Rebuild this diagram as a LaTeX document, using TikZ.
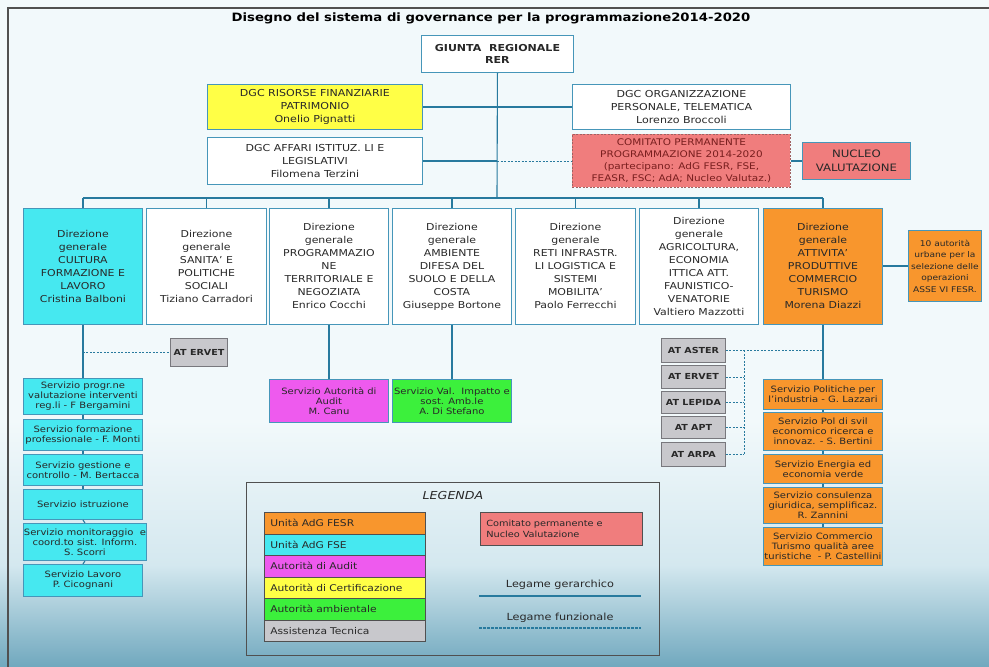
\documentclass[tikz,border=0pt]{standalone}
\usepackage{fontspec}
\setmainfont[FakeStretch=1.15]{DejaVu Sans}
\usetikzlibrary{calc}
\definecolor{bgtop}{RGB}{242,249,251}
\definecolor{bgmid}{RGB}{212,232,239}
\definecolor{bgbot}{RGB}{112,168,190}
\definecolor{framec}{RGB}{80,80,80}
\definecolor{bxline}{RGB}{70,150,185}
\definecolor{lnc}{RGB}{40,122,158}
\definecolor{txt}{RGB}{40,40,40}
\definecolor{orangec}{RGB}{248,150,45}
\definecolor{cyanc}{RGB}{70,232,240}
\definecolor{magc}{RGB}{238,90,238}
\definecolor{yelc}{RGB}{255,255,70}
\definecolor{greenc}{RGB}{60,240,60}
\definecolor{grayc}{RGB}{200,200,204}
\definecolor{graybd}{RGB}{120,120,125}
\definecolor{redc}{RGB}{240,125,125}
\definecolor{redtxt}{RGB}{120,30,30}
\newcommand\fsz[2]{\fontsize{#1}{#2}\selectfont}
\newcommand\nbox[7]{\node[#1, minimum width={#5-#3}, minimum height={#6-#4}, anchor=north west] (#2) at (#3,#4) {#7};}
\begin{document}
\begin{tikzpicture}[x=1pt,y=-1pt,
  box/.style={draw=bxline, line width=0.9pt, fill=white, align=center, inner sep=0.5pt, text=txt},
  topbox/.style={box, font=\fsz{9.6}{13}},
  dirbox/.style={box, font=\fsz{9.5}{13}},
  srvbox/.style={box, font=\fsz{8.7}{10}},
  atbox/.style={draw=graybd, line width=0.9pt, fill=grayc, align=center, inner sep=0.5pt, text=txt, font=\bfseries\fsz{8.3}{11}},
  legrow/.style={draw=framec, line width=0.7pt, align=left, inner xsep=6pt, inner ysep=0pt, text width=149pt, minimum height=21.5pt, anchor=north west, text=txt, font=\fsz{9.3}{10}},
  conn/.style={draw=lnc, line width=1.1pt},
  fconn/.style={draw=lnc, line width=0.9pt, dash pattern=on 2pt off 1.5pt}]
% background
\useasboundingbox (0,0) rectangle (989,667);
\fill[bgtop] (0,0) rectangle (989,420);
\shade[top color=bgtop, bottom color=bgmid] (0,420) rectangle (989,565);
\shade[top color=bgmid, bottom color=bgbot] (0,565) rectangle (989,667);
\draw[framec, line width=1.5pt] (8,667) -- (8,8) -- (989,8);
% title
\node[font=\bfseries\fsz{11.5}{13}, text=black] (title) at (491,18) {Disegno\ del sistema di governance per la programmazione2014-2020};
% top level
\nbox{box, font=\bfseries\fsz{9.6}{12.5}}{giunta}{421}{35}{573}{72}{GIUNTA\ \ REGIONALE\\RER}
\nbox{topbox, fill=yelc}{risorse}{207}{84}{422}{129}{DGC RISORSE FINANZIARIE\\PATRIMONIO\\Onelio Pignatti}
\nbox{topbox}{organ}{572}{84}{790}{129}{DGC ORGANIZZAZIONE\\PERSONALE, TELEMATICA\\Lorenzo Broccoli}
\nbox{topbox}{affari}{207}{137}{422}{184}{DGC AFFARI ISTITUZ. LI E\\LEGISLATIVI\\Filomena Terzini}
\nbox{topbox, fill=redc, draw=redtxt!70, dash pattern=on 2pt off 1.5pt, text=redtxt, font=\fsz{9.1}{12}}{comitato}{572}{134}{790}{187}{COMITATO PERMANENTE\\PROGRAMMAZIONE 2014-2020\\(partecipano: AdG FESR, FSE,\\FEASR, FSC; AdA; Nucleo Valutaz.)}
\nbox{topbox, fill=redc, font=\fsz{10.2}{14}}{nucleo}{802}{142}{910}{179}{NUCLEO\\VALUTAZIONE}
% directions
\nbox{dirbox, fill=cyanc}{d1}{23}{208}{142}{324}{Direzione\\generale\\CULTURA\\FORMAZIONE E\\LAVORO\\Cristina Balboni}
\nbox{dirbox}{d2}{146}{208}{266}{324}{Direzione\\generale\\SANITA’ E\\POLITICHE\\SOCIALI\\Tiziano Carradori}
\nbox{dirbox}{d3}{269}{208}{388}{324}{Direzione\\generale\\PROGRAMMAZIO\\NE\\TERRITORIALE E\\NEGOZIATA\\Enrico Cocchi}
\nbox{dirbox}{d4}{392}{208}{511}{324}{Direzione\\generale\\AMBIENTE\\DIFESA DEL\\SUOLO E DELLA\\COSTA\\Giuseppe Bortone}
\nbox{dirbox}{d5}{515}{208}{635}{324}{Direzione\\generale\\RETI INFRASTR.\\LI LOGISTICA E\\SISTEMI\\MOBILITA’\\Paolo Ferrecchi}
\nbox{dirbox}{d6}{639}{208}{758}{324}{Direzione\\generale\\AGRICOLTURA,\\ECONOMIA\\ITTICA ATT.\\FAUNISTICO-\\VENATORIE\\Valtiero Mazzotti}
\nbox{dirbox, fill=orangec}{d7}{763}{208}{882}{324}{Direzione\\generale\\ATTIVITA’\\PRODUTTIVE\\COMMERCIO\\TURISMO\\Morena Diazzi}
\nbox{srvbox, fill=orangec, font=\fsz{7.9}{11.5}}{auto}{908}{230}{981}{301}{10 autorità\\urbane per la\\selezione delle\\operazioni\\ASSE VI FESR.}
% cultura services
\nbox{srvbox, fill=cyanc}{c1}{23}{378}{142}{414}{Servizio progr.ne\\valutazione interventi\\reg.li - F Bergamini}
\nbox{srvbox, fill=cyanc}{c2}{23}{419}{142}{450}{Servizio formazione\\professionale - F. Monti}
\nbox{srvbox, fill=cyanc}{c3}{23}{454}{142}{485}{Servizio gestione e\\controllo - M. Bertacca}
\nbox{srvbox, fill=cyanc}{c4}{23}{489}{142}{519}{Servizio istruzione}
\nbox{srvbox, fill=cyanc}{c5}{23}{523}{142}{560}{Servizio monitoraggio\ \ e\\coord.to sist. Inform.\\S. Scorri}
\nbox{srvbox, fill=cyanc}{c6}{23}{564}{142}{596}{Servizio Lavoro\\P. Cicognani}
\nbox{atbox}{atc}{170}{338}{227}{366}{AT ERVET}
% audit / ambiente
\nbox{srvbox, fill=magc}{audit}{269}{379}{388}{422}{Servizio Autorità di\\Audit\\M. Canu}
\nbox{srvbox, fill=greenc}{amb}{392}{379}{511}{422}{Servizio Val.\ \ Impatto e\\sost. Amb.le\\A. Di Stefano}
% attivita AT
\nbox{atbox}{aster}{661}{338}{725}{362}{AT ASTER}
\nbox{atbox}{ervet}{661}{365}{725}{388}{AT ERVET}
\nbox{atbox}{lepida}{661}{391}{725}{413}{AT LEPIDA}
\nbox{atbox}{apt}{661}{416}{725}{438}{AT APT}
\nbox{atbox}{arpa}{661}{442}{725}{466}{AT ARPA}
% attivita services
\nbox{srvbox, fill=orangec}{o1}{763}{379}{882}{409}{Servizio Politiche per\\l'industria - G. Lazzari}
\nbox{srvbox, fill=orangec}{o2}{763}{412}{882}{450}{Servizio Pol di svil\\economico ricerca e\\innovaz. - S. Bertini}
\nbox{srvbox, fill=orangec}{o3}{763}{454}{882}{483}{Servizio Energia ed\\economia verde}
\nbox{srvbox, fill=orangec}{o4}{763}{487}{882}{523}{Servizio consulenza\\giuridica, semplificaz.\\R. Zannini}
\nbox{srvbox, fill=orangec}{o5}{763}{527}{882}{565}{Servizio Commercio\\Turismo qualità aree\\turistiche\ \ - P. Castellini}
% connectors top
\coordinate (bj) at (497,198);
\draw[conn] (giunta.south) -- (bj);
\draw[conn] (risorse.east) -- (organ.west);
\draw[conn] (affari.east) -- (affari.east -| bj);
\draw[fconn] (affari.east -| bj) -- (comitato.west);
\draw[conn] (comitato.east) -- (nucleo.west);
\draw[conn] (d1.north |- bj) -- (d7.north |- bj);
\foreach \d in {d1,d2,d3,d4,d5,d6,d7} \draw[conn] (\d.north |- bj) -- (\d.north);
\draw[conn] (auto.west -| d7.east) -- (auto.west);
% cultura column
\draw[conn] (d1.south) -- (c1.north);
\foreach \a/\b in {c1/c2,c2/c3,c3/c4,c4/c5,c5/c6} \draw[conn] (\a.south) -- (\b.north);
\draw[fconn] (atc.west -| d1.south) -- (atc.west);
\draw[conn] (d3.south) -- (audit.north);
\draw[conn] (d4.south) -- (amb.north);
% attivita column
\draw[conn] (d7.south) -- (o1.north);
\foreach \a/\b in {o1/o2,o2/o3,o3/o4,o4/o5} \draw[conn] (\a.south) -- (\b.north);
\coordinate (atv) at (744,0);
\draw[fconn] (aster.east) -- (aster.east -| d7.south);
\draw[fconn] (aster.east -| atv) -- (arpa.east -| atv);
\foreach \t in {ervet,lepida,apt,arpa} \draw[fconn] (\t.east) -- (\t.east -| atv);
% legend
\node[draw=framec, line width=1pt, minimum width=413pt, minimum height=173pt, anchor=north west] (legend) at (246,482) {};
\node[font=\itshape\fsz{11}{13}, text=txt] (legt) at (453,495) {LEGENDA};
\node[legrow, fill=orangec] (l1) at (264,512) {Unità AdG FESR};
\node[legrow, fill=cyanc] (l2) at (264,533.5) {Unità AdG FSE};
\node[legrow, fill=magc] (l3) at (264,555) {Autorità di Audit};
\node[legrow, fill=yelc] (l4) at (264,576.5) {Autorità di Certificazione};
\node[legrow, fill=greenc] (l5) at (264,598) {Autorità ambientale};
\node[legrow, fill=grayc] (l6) at (264,619.5) {Assistenza Tecnica};
\node[legrow, fill=redc, minimum height=33pt, text width=150pt, font=\fsz{8.5}{11}] (lr) at (480,512) {Comitato permanente e\\Nucleo Valutazione};
\coordinate (g1) at (479,596);
\coordinate (g2) at (641,596);
\coordinate (f1) at (479,628);
\coordinate (f2) at (641,628);
\draw[conn, line width=2pt] (g1) -- (g2);
\draw[lnc, line width=1.6pt, dash pattern=on 2.5pt off 1.5pt] (f1) -- (f2);
\node[font=\fsz{9.8}{12}, text=txt, anchor=south] (lg) at ($(g1)!0.5!(g2)+(0,-3)$) {Legame gerarchico};
\node[font=\fsz{9.8}{12}, text=txt, anchor=south] (lf) at ($(f1)!0.5!(f2)+(0,-2)$) {Legame funzionale};
\end{tikzpicture}
\end{document}
